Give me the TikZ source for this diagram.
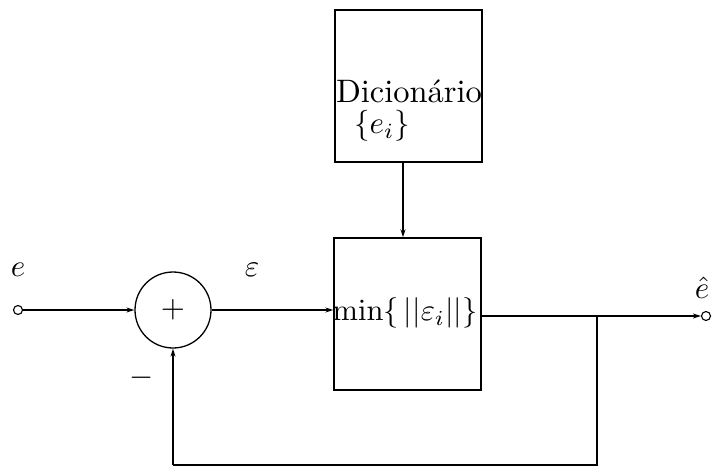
\documentclass[tikz,border=0pt]{standalone}
\usetikzlibrary{arrows.meta}
\newcommand{\bigtxt}[1]{\scalebox{3.1}{#1}}
\begin{document}
\begin{tikzpicture}[x=1pt,y=-1pt,
  blk/.style={draw,line width=1.4pt,minimum width=147pt,minimum height=152pt,inner sep=0pt},
  sumnode/.style={draw,circle,line width=1.3pt,minimum size=76pt,inner sep=0pt},
  term/.style={draw,circle,line width=1.1pt,minimum size=9pt,inner sep=0pt},
  lbl/.style={inner sep=0pt},
  wire/.style={line width=1.3pt},
  arr/.style={wire,-{Stealth[length=8pt,width=5pt]}}]
\useasboundingbox (0,0) rectangle (712,468);
\node[blk] (dict) at (408.5,86) {};
\node[blk] (minb) at (407.5,314) {};
\node[sumnode] (sum) at (173,310) {};
\node[term] (in) at (18,310) {};
\node[term] (out) at (706,316) {};
\node[lbl] (dtxt) at (409,91) {\scalebox{3.25}{Dicion\'ario}};
\node[lbl] (etxt) at (382,126) {\bigtxt{$\{e_i\}$}};
\node[lbl] (mtxt) at (405,313) {\scalebox{3.05}{$\min\{\,||\varepsilon_i||\}$}};
\node[lbl] (plus) at (173,310) {\bigtxt{$+$}};
\node[lbl] (lin) at (18,270) {\bigtxt{$e$}};
\node[lbl] (leps) at (252,270) {\bigtxt{$\varepsilon$}};
\node[lbl] (lminus) at (142,378) {\bigtxt{$-$}};
\node[lbl] (lout) at (702,288) {\bigtxt{$\hat{e}$}};
\coordinate (br) at (597,316);
\coordinate (c1) at (597,465);
\coordinate (c2) at (173,465);
\draw[arr] (in) -- (sum);
\draw[arr] (sum.east) -- (minb.west |- sum.east);
\draw[arr] (dict.south -| 403,0) -- (minb.north -| 403,0);
\draw[arr] (minb.east |- br) -- (out);
\draw[wire] (br) -- (c1) -- (c2);
\draw[arr] (c2) -- (sum.south);
\end{tikzpicture}
\end{document}
